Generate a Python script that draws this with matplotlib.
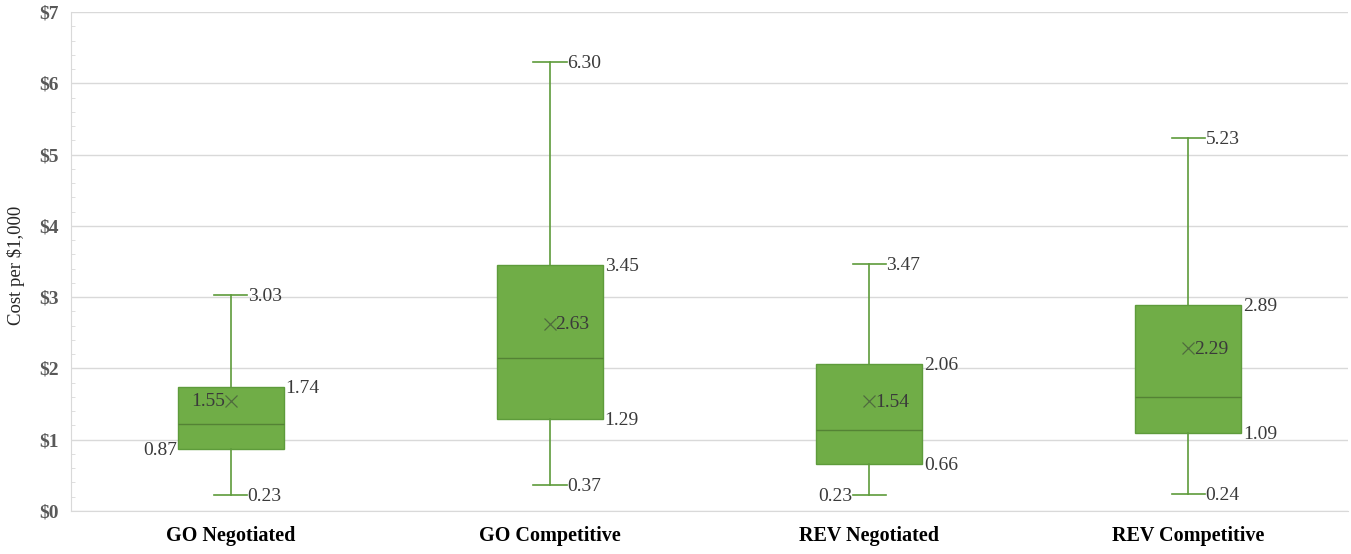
import matplotlib
matplotlib.use("Agg")
import matplotlib.pyplot as plt
from matplotlib.ticker import MultipleLocator, FuncFormatter

# Cost per $1,000 by sale type
categories = ["GO Negotiated", "GO Competitive", "REV Negotiated", "REV Competitive"]
mins = [0.23, 0.37, 0.23, 0.24]
q1s = [0.87, 1.29, 0.66, 1.09]
medians = [1.22, 2.15, 1.14, 1.60]
q3s = [1.74, 3.45, 2.06, 2.89]
maxs = [3.03, 6.30, 3.47, 5.23]
means = [1.55, 2.63, 1.54, 2.29]

# which side each label sits on ("r" = right of the mark, "l" = left)
q1_side = ["l", "r", "r", "r"]
min_side = ["r", "r", "l", "r"]
mean_side = ["l", "r", "r", "r"]

plt.rcParams["font.family"] = ["Liberation Serif", "DejaVu Serif"]

fig = plt.figure(figsize=(13.51, 5.54), dpi=100)
ax = fig.add_axes([0.0526, 0.0776, 0.9452, 0.9007])

green = "#70AD47"
edge = "#5E9B3B"
dark = "#548235"
label_color = "#3A3A3A"

stats = []
for c, lo, a, m, b, hi, mu in zip(categories, mins, q1s, medians, q3s, maxs, means):
    stats.append(dict(label=c, whislo=lo, q1=a, med=m, q3=b, whishi=hi, mean=mu, fliers=[]))

positions = list(range(len(categories)))
box_w = 0.332
cap_w = 0.104
ax.bxp(stats, positions=positions, widths=box_w, capwidths=cap_w,
       patch_artist=True, showmeans=True, showfliers=False,
       boxprops=dict(facecolor=green, edgecolor=edge, linewidth=1.0),
       medianprops=dict(color=dark, linewidth=1.0),
       whiskerprops=dict(color=edge, linewidth=1.2),
       capprops=dict(color=edge, linewidth=1.2),
       meanprops=dict(marker="x", markersize=9, markeredgecolor="#4F6B3E",
                      markeredgewidth=0.9),
       zorder=3)

fs = 14


def put(x, y, val, side, dx=1.5):
    ha = "left" if side == "r" else "right"
    off = dx if side == "r" else -dx
    ax.annotate(f"{val:.2f}", xy=(x, y), xytext=(off, -1), textcoords="offset points",
                ha=ha, va="center", fontsize=fs, color=label_color, zorder=5)


for i in positions:
    half_box = box_w / 2
    half_cap = cap_w / 2
    put(i + half_cap, maxs[i], maxs[i], "r", 0.3)
    put(i + half_box, q3s[i], q3s[i], "r", 1.2)
    if q1_side[i] == "r":
        put(i + half_box, q1s[i], q1s[i], "r", 1.2)
    else:
        put(i - half_box, q1s[i], q1s[i], "l", 0.3)
    if min_side[i] == "r":
        put(i + half_cap, mins[i], mins[i], "r", 0.3)
    else:
        put(i - half_cap, mins[i], mins[i], "l", 0.3)
    put(i, means[i], means[i], mean_side[i], 4.0)

ax.set_xlim(-0.5, len(categories) - 0.5)
ax.set_ylim(0, 7)
ax.set_xticks(positions)
ax.set_xticklabels(categories, fontsize=14.5, fontweight="bold", color="black")
ax.tick_params(axis="x", length=0, pad=11)

ax.yaxis.set_major_locator(MultipleLocator(1))
ax.yaxis.set_minor_locator(MultipleLocator(0.2))
ax.yaxis.set_major_formatter(FuncFormatter(lambda v, p: f"${v:.0f}"))
ax.tick_params(axis="y", which="major", length=0, pad=9, labelsize=14,
               labelcolor="#595959")
ax.tick_params(axis="y", which="minor", length=3, direction="in", color="#D9D9D9")
for t in ax.get_yticklabels():
    t.set_fontweight("bold")

ax.set_ylabel("Cost per $1,000", fontsize=13.5, color="#262626")
ax.yaxis.set_label_coords(-0.036, 0.493)

ax.grid(axis="y", color="#D9D9D9", linewidth=1.0, zorder=0)
ax.set_axisbelow(True)
for s in ["top", "right"]:
    ax.spines[s].set_visible(False)
ax.spines["left"].set_color("#D9D9D9")
ax.spines["bottom"].set_color("#D9D9D9")

fig.savefig("out.png", dpi=100)
